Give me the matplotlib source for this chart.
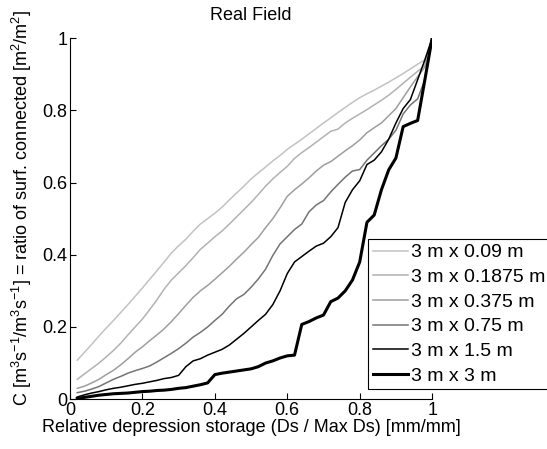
import numpy as np
import matplotlib
matplotlib.use("Agg")
import matplotlib.pyplot as plt

plt.rcParams['font.family'] = ['Liberation Sans', 'DejaVu Sans']
plt.rcParams['mathtext.fontset'] = 'custom'
plt.rcParams['mathtext.rm'] = 'Liberation Sans'
plt.rcParams['mathtext.it'] = 'Liberation Sans:italic'
plt.rcParams['mathtext.default'] = 'regular'

# ---------- data ----------
ds_rel = [0.02, 0.04, 0.06, 0.08, 0.10, 0.12, 0.14, 0.16, 0.18, 0.20,
          0.22, 0.24, 0.26, 0.28, 0.30, 0.32, 0.34, 0.36, 0.38, 0.40,
          0.42, 0.44, 0.46, 0.48, 0.50, 0.52, 0.54, 0.56, 0.58, 0.60,
          0.62, 0.64, 0.66, 0.68, 0.70, 0.72, 0.74, 0.76, 0.78, 0.80,
          0.82, 0.84, 0.86, 0.88, 0.90, 0.92, 0.94, 0.96, 0.98, 1.00]

c_009 = [0.108, 0.130, 0.152, 0.175, 0.197, 0.218, 0.240, 0.262, 0.285, 0.308,
         0.332, 0.356, 0.380, 0.405, 0.425, 0.443, 0.465, 0.485, 0.500, 0.515,
         0.532, 0.552, 0.571, 0.590, 0.610, 0.627, 0.643, 0.660, 0.675, 0.692,
         0.706, 0.720, 0.735, 0.750, 0.765, 0.779, 0.794, 0.808, 0.822, 0.835,
         0.846, 0.856, 0.867, 0.878, 0.890, 0.902, 0.915, 0.928, 0.940, 1.000]

c_01875 = [0.055, 0.070, 0.085, 0.100, 0.117, 0.135, 0.155, 0.178, 0.200, 0.222,
           0.248, 0.275, 0.305, 0.330, 0.350, 0.370, 0.392, 0.415, 0.432, 0.450,
           0.466, 0.485, 0.505, 0.525, 0.545, 0.567, 0.590, 0.610, 0.628, 0.645,
           0.667, 0.683, 0.697, 0.712, 0.727, 0.742, 0.748, 0.765, 0.778, 0.790,
           0.802, 0.815, 0.828, 0.842, 0.858, 0.875, 0.892, 0.908, 0.925, 1.000]

c_0375 = [0.030, 0.036, 0.045, 0.055, 0.068, 0.080, 0.095, 0.112, 0.130, 0.145,
          0.162, 0.178, 0.195, 0.215, 0.237, 0.260, 0.282, 0.300, 0.315, 0.332,
          0.350, 0.368, 0.388, 0.407, 0.428, 0.448, 0.475, 0.500, 0.530, 0.562,
          0.580, 0.596, 0.613, 0.632, 0.648, 0.658, 0.673, 0.688, 0.702, 0.718,
          0.738, 0.752, 0.765, 0.785, 0.805, 0.835, 0.865, 0.893, 0.920, 1.000]

c_075 = [0.018, 0.022, 0.028, 0.035, 0.045, 0.055, 0.063, 0.072, 0.079, 0.085,
         0.092, 0.103, 0.115, 0.127, 0.140, 0.155, 0.172, 0.185, 0.200, 0.218,
         0.235, 0.258, 0.278, 0.290, 0.310, 0.333, 0.360, 0.398, 0.430, 0.450,
         0.470, 0.485, 0.519, 0.538, 0.550, 0.574, 0.595, 0.615, 0.632, 0.636,
         0.662, 0.682, 0.702, 0.720, 0.745, 0.790, 0.815, 0.832, 0.885, 1.000]

c_15 = [0.006, 0.012, 0.017, 0.021, 0.026, 0.030, 0.033, 0.037, 0.041, 0.044,
        0.048, 0.052, 0.057, 0.060, 0.066, 0.090, 0.106, 0.112, 0.122, 0.130,
        0.138, 0.150, 0.166, 0.182, 0.200, 0.218, 0.235, 0.262, 0.300, 0.348,
        0.380, 0.395, 0.410, 0.424, 0.432, 0.450, 0.475, 0.545, 0.580, 0.605,
        0.650, 0.662, 0.685, 0.720, 0.765, 0.805, 0.830, 0.885, 0.940, 1.000]

c_3 = [0.002, 0.005, 0.008, 0.011, 0.013, 0.015, 0.016, 0.017, 0.019, 0.021,
       0.022, 0.024, 0.025, 0.027, 0.030, 0.032, 0.036, 0.040, 0.045, 0.068,
       0.072, 0.075, 0.078, 0.081, 0.084, 0.090, 0.100, 0.106, 0.114, 0.120,
       0.122, 0.207, 0.215, 0.225, 0.233, 0.270, 0.280, 0.300, 0.330, 0.380,
       0.490, 0.510, 0.580, 0.635, 0.668, 0.755, 0.764, 0.772, 0.885, 1.000]

labels = ['3 m x 0.09 m', '3 m x 0.1875 m', '3 m x 0.375 m',
          '3 m x 0.75 m', '3 m x 1.5 m', '3 m x 3 m']
ticks = [0, 0.2, 0.4, 0.6, 0.8, 1]
tick_labels = ['0', '0.2', '0.4', '0.6', '0.8', '1']

# ---------- plot ----------
series = [c_009, c_01875, c_0375, c_075, c_15, c_3]
colors = ['#c2c2c2', '#b2b2b2', '#9e9e9e', '#747474', '#000000', '#000000']
widths = [1.1, 1.1, 1.1, 1.1, 1.1, 2.2]
FS = 13

fig = plt.figure(figsize=(5.47, 4.49), dpi=100)
ax = fig.add_axes([0.128, 0.111, 0.662, 0.804])

for y, c, lw, lab in zip(series, colors, widths, labels):
    ax.plot(ds_rel, y, color=c, lw=lw, label=lab)

ax.set_xlim(0, 1)
ax.set_ylim(0, 1)
ax.set_xticks(ticks)
ax.set_xticklabels(tick_labels)
ax.set_yticks(ticks)
ax.set_yticklabels(tick_labels)
ax.tick_params(direction='in', length=4, width=0.8, labelsize=FS, pad=2)
for s in ['top', 'right']:
    ax.spines[s].set_visible(False)
for s in ['left', 'bottom']:
    ax.spines[s].set_linewidth(0.8)

ax.set_title('Real Field', fontsize=FS, pad=13)
ax.set_xlabel('Relative depression storage (Ds / Max Ds) [mm/mm]', fontsize=FS, labelpad=0)
ax.set_ylabel(r'C [m$^3$s$^{-1}$/m$^3$s$^{-1}$] = ratio of surf. connected [m$^2$/m$^2$]',
              fontsize=FS)
ax.yaxis.set_label_coords(-0.1, 0.53)

# legend frame runs past the right edge, as in the reference
leg = fig.legend(loc='upper left', bbox_to_anchor=(368 / 547, 1 - 239 / 449),
                 fontsize=14, frameon=True, fancybox=False, framealpha=1,
                 edgecolor='black', handlelength=1.8, handletextpad=0.15,
                 labelspacing=0.36, borderpad=0.25, borderaxespad=0)
leg.get_frame().set_linewidth(0.8)

plt.savefig('out.png', dpi=100)
